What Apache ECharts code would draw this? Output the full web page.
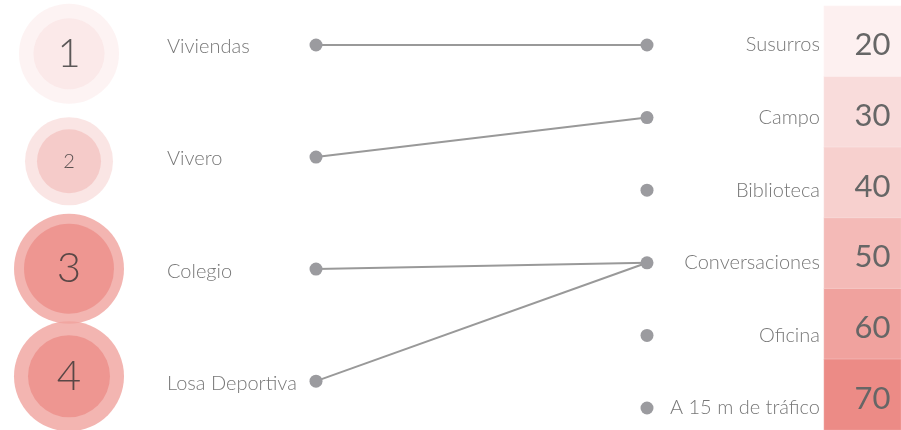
<!DOCTYPE html>
<html>
<head>
<meta charset="utf-8">
<script src="https://cdn.jsdelivr.net/npm/echarts@6/dist/echarts.min.js"></script>
<style>html,body{margin:0;padding:0;background:#fff}#c{width:901px;height:430px}</style>
</head>
<body>
<div id="c"></div>
<script>
// ---- data ----
var ranks = ['1', '2', '3', '4'];
var places = ['Viviendas', 'Vivero', 'Colegio', 'Losa Deportiva'];
var sources = ['Susurros', 'Campo', 'Biblioteca', 'Conversaciones', 'Oficina', 'A 15 m de tráfico'];
var levels = [20, 30, 40, 50, 60, 70];
// place -> source (level) links
var linkPlace = ['Viviendas', 'Vivero', 'Colegio', 'Losa Deportiva'];
var linkSource = ['Susurros', 'Campo', 'Conversaciones', 'Conversaciones'];

// ---- styles ----
var outerSize = [100, 88, 110, 110];
var innerSize = [71, 64, 90, 82];
var outerColor = ['#fdf0f0', '#f9dedd', '#f0a29e', '#f0a29e'];
var innerColor = ['#fae6e6', '#f4c4c2', '#ec8f8a', '#ec8f8a'];
var rankFont = [40, 20, 42, 42];
var levelColor = ['#fdf0f0', '#f9dcdb', '#f7d0ce', '#f4bab7', '#f0a29e', '#ec8b86'];
var LEFT_STEP = 4.63 / 3; // left column spacing in right-row units
var FONT = 'Lato';

var chart = echarts.init(document.getElementById('c'));

var leftDots = places.map(function (p, i) { return [0, i * LEFT_STEP, p]; });
var rightDots = sources.map(function (s, i) { return [1, i, s]; });
var links = linkPlace.map(function (p, k) {
  return { coords: [[0, places.indexOf(p) * LEFT_STEP], [1, sources.indexOf(linkSource[k])]] };
});

var option = {
  animation: false,
  backgroundColor: '#fff',
  grid: [
    { left: 316, right: 254, top: 45, bottom: 22 },
    { left: 824, right: 0, top: 6, bottom: -3 },
    { left: 0, width: 138, top: -1, bottom: -1 }
  ],
  xAxis: [
    { gridIndex: 0, type: 'value', min: 0, max: 1, show: false },
    { gridIndex: 1, type: 'category', data: [''], show: false },
    { gridIndex: 2, type: 'category', data: [''], show: false }
  ],
  yAxis: [
    { gridIndex: 0, type: 'value', min: 0, max: 5, inverse: true, show: false },
    { gridIndex: 1, type: 'category', data: sources, inverse: true, show: false },
    { gridIndex: 2, type: 'category', data: ranks, inverse: true, show: false }
  ],
  series: [
    {
      type: 'lines', coordinateSystem: 'cartesian2d', xAxisIndex: 0, yAxisIndex: 0,
      data: links, symbol: 'none',
      lineStyle: { color: '#999', width: 2, opacity: 1 }, silent: true, z: 2
    },
    {
      type: 'scatter', xAxisIndex: 0, yAxisIndex: 0, data: leftDots, symbolSize: 13, clip: false,
      itemStyle: { color: '#9b9b9f', opacity: 1 }, z: 3,
      label: {
        show: true, position: 'inside', align: 'left', offset: [-149, 2],
        formatter: function (p) { return p.data[2]; },
        color: '#777', fontSize: 20, fontFamily: FONT, fontWeight: 300
      }
    },
    {
      type: 'scatter', xAxisIndex: 0, yAxisIndex: 0, data: rightDots, symbolSize: 13, clip: false,
      itemStyle: { color: '#9b9b9f', opacity: 1 }, z: 3,
      label: {
        show: true, position: 'inside', align: 'right', offset: [173, 0],
        formatter: function (p) { return p.data[2]; },
        color: '#777', fontSize: 20, fontFamily: FONT, fontWeight: 300
      }
    },
    {
      type: 'heatmap', xAxisIndex: 1, yAxisIndex: 1,
      data: levels.map(function (v, i) {
        return { value: [0, i, v], itemStyle: { color: levelColor[i] } };
      }),
      itemStyle: { borderColor: 'rgba(255,255,255,0.25)', borderWidth: 1 },
      label: {
        show: true, color: '#666', fontSize: 31, fontFamily: FONT, fontWeight: 400,
        offset: [10, 4],
        formatter: function (p) { return p.data.value[2]; }
      }
    },
    {
      type: 'scatter', xAxisIndex: 2, yAxisIndex: 2, clip: false,
      data: ranks.map(function (r, i) {
        return { value: [0, i], symbolSize: outerSize[i], itemStyle: { color: outerColor[i] } };
      }),
      z: 1
    },
    {
      type: 'scatter', xAxisIndex: 2, yAxisIndex: 2, clip: false,
      data: ranks.map(function (r, i) {
        return {
          value: [0, i], symbolSize: innerSize[i], itemStyle: { color: innerColor[i] },
          label: { fontSize: rankFont[i] }
        };
      }),
      z: 2,
      label: {
        show: true, position: 'inside', color: '#333', fontFamily: FONT, fontWeight: 300,
        formatter: function (p) { return ranks[p.dataIndex]; }
      }
    }
  ]
};
chart.setOption(option);
</script>
</body>
</html>
